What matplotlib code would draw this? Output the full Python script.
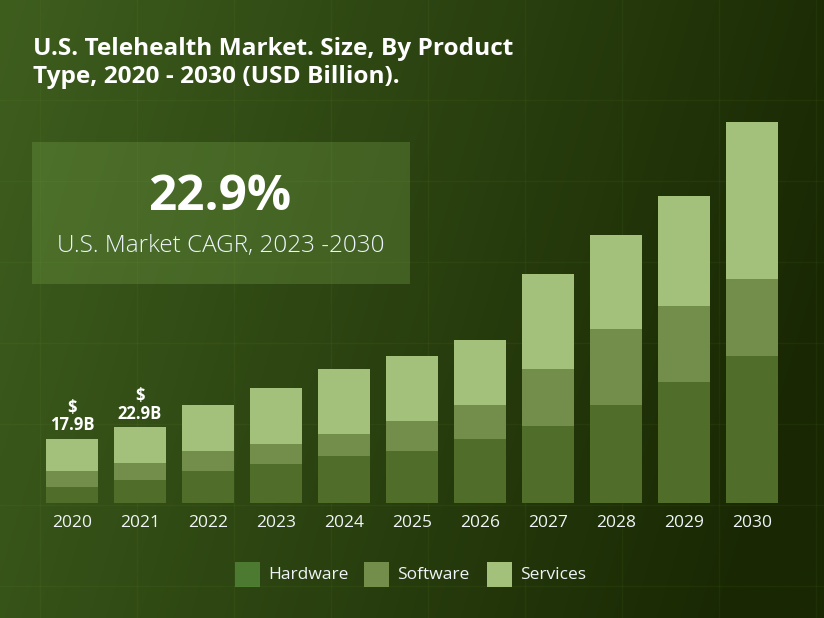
import numpy as np
import matplotlib.pyplot as plt
from matplotlib.patches import Rectangle

# ---------- data ----------
years = ["2020", "2021", "2022", "2023", "2024", "2025",
         "2026", "2027", "2028", "2029", "2030"]
hardware = [4.5, 6.4, 9.0, 10.8, 13.1, 14.5, 17.8, 21.5, 27.4, 33.8, 41.1]
software = [4.5, 4.6, 5.5, 5.6, 6.2, 8.4, 9.5, 16.0, 21.3, 21.3, 21.6]
services = [8.9, 10.1, 12.9, 15.7, 18.2, 18.2, 18.2, 26.6, 26.3, 30.8, 44.0]
value_labels = {0: "17.9B", 1: "22.9B"}
series_names = ["Hardware", "Software", "Services"]
cagr_text = "22.9%"
cagr_caption = "U.S. Market CAGR, 2023 -2030"
title = "U.S. Telehealth Market. Size, By Product\nType, 2020 - 2030 (USD Billion)."

colors = ["#506d2a", "#728e4a", "#a4c17b"]
legend_colors = ["#4b7a30", "#728e4a", "#a4c17b"]
font = ["Open Sans", "DejaVu Sans"]
W, H = 824, 618

fig = plt.figure(figsize=(W / 100, H / 100), dpi=100)

# background gradient
bg = fig.add_axes([0, 0, 1, 1])
xx, yy = np.meshgrid(np.linspace(0, 1, 300), np.linspace(0, 1, 230))
t = np.clip(0.9 * xx + 0.2 * yy, 0, 1)
left = np.array([62, 94, 30]) / 255
right = np.array([25, 40, 3]) / 255
img = left[None, None, :] * (1 - t[..., None]) + right[None, None, :] * t[..., None]
bg.imshow(img, extent=[0, W, H, 0], aspect="auto")
# faint grid in the background
for gx in range(40, W, 97):
    bg.axvline(gx, color="#8fbf3f", alpha=0.06, lw=1)
for gy in range(100, H, 81):
    bg.axhline(gy, color="#8fbf3f", alpha=0.06, lw=1)
bg.set_xlim(0, W)
bg.set_ylim(H, 0)
bg.axis("off")

# CAGR box
bg.add_patch(Rectangle((32, 142), 378, 142, facecolor="#6f9a45", alpha=0.35, edgecolor="none"))
bg.text(220, 197, cagr_text, color="white", fontsize=35.5, fontweight="bold",
        ha="center", va="center", family=font)
bg.text(221, 246, cagr_caption, color="#eef4ff", fontsize=17.5, fontweight="light",
        ha="center", va="center", family=font)

# title
bg.text(33, 63, title, color="white", fontsize=17.6, fontweight="bold",
        ha="left", va="center", family=font, linespacing=1.25)

# bars
x0, x1 = 38, 786
ybase, ytop = 502.7, 110
ax = fig.add_axes([x0 / W, (H - ybase) / H, (x1 - x0) / W, (ybase - ytop) / H])
ax.patch.set_alpha(0)
xs = np.arange(len(years))
hw = np.array(hardware)
sw = np.array(software)
sv = np.array(services)
ax.bar(xs, hw, width=0.765, color=colors[0])
ax.bar(xs, sw, width=0.765, bottom=hw, color=colors[1])
ax.bar(xs, sv, width=0.765, bottom=hw + sw, color=colors[2])
ax.set_xlim(-0.5, len(years) - 0.5)
ax.set_ylim(0, (ybase - ytop) * 0.28)
ax.set_xticks(xs)
ax.set_xticklabels(years, color="#f0f4f8", fontsize=12.5, family=font)
ax.tick_params(axis="x", length=0, pad=9)
ax.set_yticks([])
for s in ax.spines.values():
    s.set_visible(False)

totals = hw + sw + sv
for i, lab in value_labels.items():
    ax.text(xs[i], totals[i] + 1.3, "$\n" + lab, color="white", fontsize=12,
            fontweight="bold", ha="center", va="bottom", family=font, linespacing=0.95)

# legend
lx = [235, 364, 487]
for px, c, name in zip(lx, legend_colors, series_names):
    bg.add_patch(Rectangle((px, 562), 25, 25, facecolor=c, edgecolor="none"))
    bg.text(px + 33, 575, name, color="#f0f4f8", fontsize=12.5, ha="left",
            va="center", family=font)

fig.savefig("out.png", dpi=100)
